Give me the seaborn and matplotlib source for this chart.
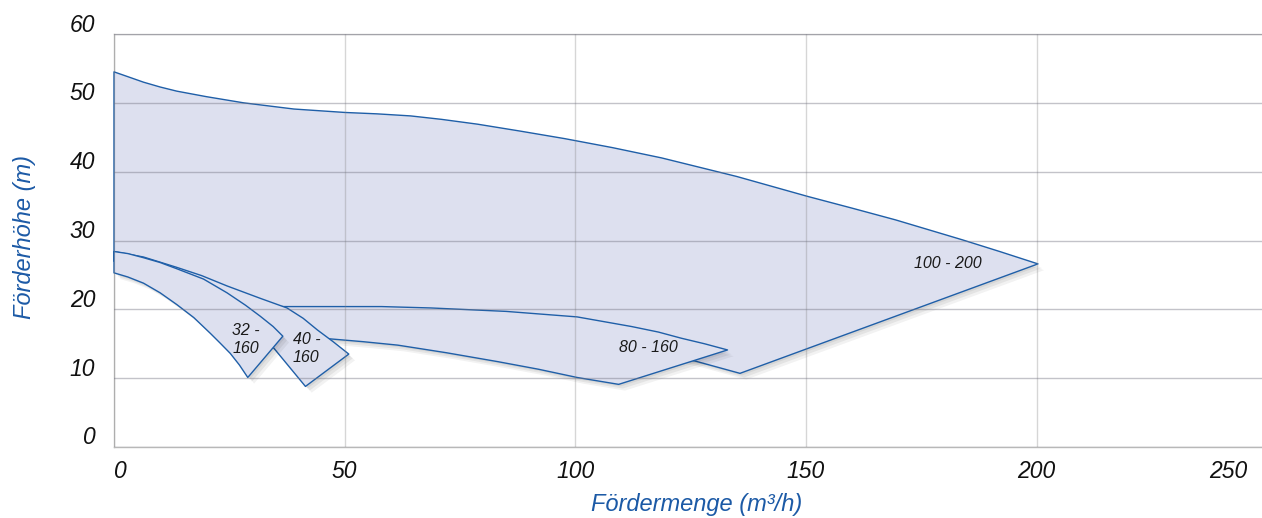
import matplotlib
matplotlib.use("Agg")
import matplotlib.pyplot as plt
import seaborn as sns
from matplotlib import patheffects as pe
from matplotlib import transforms as mtrans

# ---------------- data ----------------
q_100_200 = [0, 3, 6.4, 10, 13.6, 20, 28.1, 39.0, 50.1, 57, 64.3, 71, 78.8, 88, 97.7, 108,
             118.7, 135, 150.4, 160, 169.4, 183.9, 192, 200.3,
             135.7, 125.9, 110, 90, 60, 40, 30, 20, 10, 0]
h_100_200 = [54.5, 53.8, 53.0, 52.3, 51.7, 50.9, 50.0, 49.1, 48.6, 48.4, 48.1, 47.6, 46.9, 45.9, 44.8, 43.5,
             42.0, 39.3, 36.4, 34.7, 33.0, 30.1, 28.4, 26.6,
             10.7, 12.5, 14.8, 16.5, 17.5, 17.0, 18.0, 21.5, 25.0, 27.0]

q_80_160 = [34, 47, 58, 68.7, 85, 100.4, 112.2, 118, 123.0, 128, 133.0,
            109.4, 100.4, 92, 83.2, 72, 61.5, 54, 47, 34]
h_80_160 = [20.4, 20.4, 20.4, 20.2, 19.7, 18.9, 17.5, 16.7, 15.8, 15.0, 14.1,
            9.1, 10.1, 11.3, 12.4, 13.7, 14.8, 15.3, 15.7, 16.2]

q_40_160 = [0, 6.4, 13.6, 19, 24.5, 31.7, 37.5, 41, 44.1, 47.5, 50.9,
            41.5, 34.6, 28, 20, 10, 0]
h_40_160 = [28.4, 27.6, 26.1, 24.9, 23.4, 21.6, 20.2, 18.7, 17.0, 15.3, 13.5,
            8.8, 14.4, 17.5, 21.5, 25.0, 27.0]

q_32_160 = [0, 3, 6.4, 10, 13.6, 19.4, 24.5, 28.5, 31.7, 34.5, 36.6,
            29.0, 27.2, 25.2, 23, 20.9, 17.3, 13.6, 10, 6.4, 3, 0]
h_32_160 = [28.4, 28.1, 27.5, 26.8, 25.9, 24.4, 22.4, 20.6, 19.0, 17.5, 16.1,
            10.1, 11.9, 13.6, 15.1, 16.5, 18.8, 20.7, 22.4, 23.8, 24.7, 25.3]

pump_labels = ["100 - 200", "80 - 160", "40 -\n160", "32 -\n160"]
label_q = [180.7, 115.8, 41.7, 28.5]
label_h = [26.6, 14.5, 14.3, 15.6]

x_ticks = [0, 50, 100, 150, 200, 250]
y_ticks = [0, 10, 20, 30, 40, 50, 60]
x_title = "Fördermenge (m³/h)"
y_title = "Förderhöhe (m)"

# ---------------- style ----------------
sns.set_theme(style="white")
plt.rcParams["font.family"] = ["Liberation Sans", "DejaVu Sans"]

FILL = "#dde0ef"
EDGE = "#1f5fa8"
BLUE_TXT = "#1c5aa6"

fig = plt.figure(figsize=(12.62, 5.18), dpi=100)
ax = fig.add_axes([114 / 1262, 71 / 518, 1153.25 / 1262, 413 / 518])

shapes = [(q_100_200, h_100_200), (q_80_160, h_80_160),
          (q_40_160, h_40_160), (q_32_160, h_32_160)]

shadow = [pe.SimplePatchShadow(offset=(1.5, -1.5), shadow_rgbFace="black", alpha=0.06),
          pe.SimplePatchShadow(offset=(3.0, -3.0), shadow_rgbFace="black", alpha=0.06),
          pe.SimplePatchShadow(offset=(4.5, -4.5), shadow_rgbFace="black", alpha=0.05),
          pe.Normal()]

for i, (q, h) in enumerate(shapes):
    polys = ax.fill(q, h, facecolor=FILL, edgecolor=EDGE, linewidth=1.0,
                    zorder=1 + i * 0.1, clip_on=False, joinstyle="round")
    for p in polys:
        p.set_path_effects(shadow)

for txt, xq, yh in zip(pump_labels, label_q, label_h):
    ax.text(xq, yh, txt, ha="center", va="center", fontsize=11.5, style="italic",
            color="#1a1a1a", linespacing=1.25, zorder=5)

ax.set_xlim(0, 250)
ax.set_ylim(0, 60)
ax.set_xticks(x_ticks)
ax.set_yticks(y_ticks)
ax.set_xticklabels([str(v) for v in x_ticks])
ax.set_yticklabels([str(v) for v in y_ticks])

ax.set_axisbelow(False)
ax.xaxis.grid(True, color="#808080", alpha=0.32, linewidth=1.0, zorder=2.5)
ax.yaxis.grid(True, color="#707080", alpha=0.42, linewidth=1.0, zorder=2.5)

ax.spines["right"].set_visible(False)
ax.spines["top"].set_color("#c8c8c8")
ax.spines["left"].set_color("#c4c4c4")
ax.spines["bottom"].set_color("#b8b8b8")
for s in ["top", "left", "bottom"]:
    ax.spines[s].set_linewidth(1.0)
    ax.spines[s].set_zorder(0.5)

ax.tick_params(axis="both", length=0, labelsize=16.5, labelcolor="#111111")
ax.tick_params(axis="x", pad=9)
ax.tick_params(axis="y", pad=13.5)

xl = ax.get_xticklabels()
for lab in xl:
    lab.set_fontstyle("italic")
xl[0].set_ha("left")
xl[-1].set_ha("right")
xl[-1].set_transform(xl[-1].get_transform() +
                     mtrans.ScaledTranslation(-20 / 100, 0, fig.dpi_scale_trans))
for lab in ax.get_yticklabels():
    lab.set_fontstyle("italic")
    lab.set_va("baseline")
    lab.set_transform(lab.get_transform() +
                      mtrans.ScaledTranslation(0, 2.5 / 100, fig.dpi_scale_trans))

ax.set_xlabel(x_title, fontsize=17, style="italic", color=BLUE_TXT, va="center")
ax.set_ylabel(y_title, fontsize=17, style="italic", color=BLUE_TXT, va="center")
ax.xaxis.set_label_coords((697 - 114) / 1153.25, (447 - 505) / 413)
ax.yaxis.set_label_coords((25 - 114) / 1153.25, (447 - 237) / 413)

fig.savefig("out.png", dpi=100)
